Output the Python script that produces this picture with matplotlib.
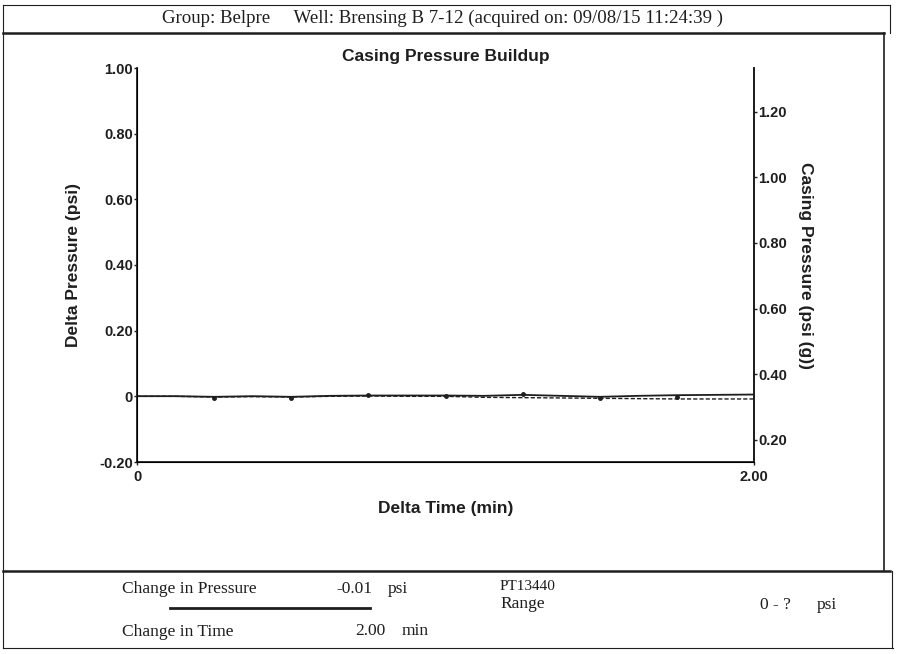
import matplotlib.pyplot as plt
from matplotlib.lines import Line2D

# ---- data ----
delta_time = [0, 0.125, 0.25, 0.375, 0.5, 0.625, 0.75, 0.875, 1.0,
              1.125, 1.25, 1.375, 1.5, 1.625, 1.75, 1.875, 2.0]
delta_pressure = [0, 0, -0.002, -0.001, -0.002, 0.0, 0.001, 0.0, 0.0,
                  -0.003, -0.004, -0.005, -0.006, -0.007, -0.008, -0.008, -0.008]
casing_pressure = [0.333, 0.333, 0.331, 0.333, 0.331, 0.334, 0.335, 0.335, 0.335,
                   0.334, 0.337, 0.334, 0.331, 0.334, 0.336, 0.337, 0.338]
marker_time = [0.25, 0.5, 0.75, 1.0, 1.25, 1.5, 1.75]
marker_dp = [-0.004, -0.004, 0.003, 0.002, 0.006, -0.004, -0.002]

left_ticks = [-0.20, 0, 0.20, 0.40, 0.60, 0.80, 1.00]
left_labels = ['-0.20', '0', '0.20', '0.40', '0.60', '0.80', '1.00']
right_ticks = [0.20, 0.40, 0.60, 0.80, 1.00, 1.20]
right_labels = ['0.20', '0.40', '0.60', '0.80', '1.00', '1.20']

ink = '#1e1e1e'
serif = 'Liberation Serif'
sans = 'Liberation Sans'

fig = plt.figure(figsize=(8.98, 6.54), dpi=100)

# ---- frames (figure pixels -> fraction) ----
W, H = 898, 654
def hline(y, x0, x1, lw=1.2):
    fig.add_artist(Line2D([x0 / W, x1 / W], [1 - y / H, 1 - y / H], color=ink, lw=lw))
def vline(x, y0, y1, lw=1.2):
    fig.add_artist(Line2D([x / W, x / W], [1 - y0 / H, 1 - y1 / H], color=ink, lw=lw))

hline(5, 3, 890, 0.8)
hline(33, 3, 884, 1.8)
hline(571, 3, 890, 1.8)
hline(648, 3, 893, 0.8)
vline(3, 5, 648, 0.8)
vline(884, 33, 571, 1.2)
vline(890, 5, 33, 0.8)
vline(892, 571, 648, 0.8)

fig.text(443 / W, 1 - 18 / H,
         'Group: Belpre     Well: Brensing B 7-12 (acquired on: 09/08/15 11:24:39 )',
         ha='center', va='center', fontsize=13.6, family=serif, color=ink)

# ---- main plot ----
ax = fig.add_axes([137 / W, 1 - 462 / H, (754 - 137) / W, (462 - 68) / H])
ax.plot(delta_time, delta_pressure, color=ink, lw=1.0, ls=(0, (3, 1.5)))
ax.plot(marker_time, marker_dp, ls='none', marker='o', ms=2.5, color=ink)
ax.set_xlim(0, 2.0)
ax.set_ylim(-0.20, 1.00)
ax.set_xticks([0, 2.0])
ax.set_xticklabels(['0', '2.00'])
ax.set_yticks(left_ticks)
ax.set_yticklabels(left_labels)
ax.spines['top'].set_visible(False)
for s in ['left', 'bottom', 'right']:
    ax.spines[s].set_linewidth(1.3)
    ax.spines[s].set_color(ink)
ax.tick_params(axis='both', length=2, width=1, colors=ink, pad=1, labelsize=10.5)
ax.tick_params(axis='x', pad=4)
for lab in ax.get_xticklabels() + ax.get_yticklabels():
    lab.set_fontweight('bold')
    lab.set_family(sans)
ax.set_xlabel('Delta Time (min)', fontsize=12.5, fontweight='bold', family=sans,
              color=ink, labelpad=12)
ax.set_ylabel('Delta Pressure (psi)', fontsize=12.5, fontweight='bold', family=sans,
              color=ink, labelpad=13)
ax.set_title('Casing Pressure Buildup', fontsize=12.5, fontweight='bold',
             family=sans, color=ink, pad=5)

ax2 = ax.twinx()
ax2.plot(delta_time, casing_pressure, color=ink, lw=1.3)
ax2.set_ylim(0.1325, 1.3325)
ax2.set_yticks(right_ticks)
ax2.set_yticklabels(right_labels)
ax2.spines['top'].set_visible(False)
ax2.spines['right'].set_linewidth(1.3)
ax2.spines['right'].set_color(ink)
ax2.tick_params(axis='y', length=2, width=1, colors=ink, pad=1, labelsize=10.5)
for lab in ax2.get_yticklabels():
    lab.set_fontweight('bold')
    lab.set_family(sans)
ax2.set_ylabel('Casing Pressure (psi (g))', rotation=-90, fontsize=12.5,
               fontweight='bold', family=sans, color=ink, labelpad=19)

# ---- footer ----
def ftext(x, y, s, ha='left', size=12.5):
    fig.text(x / W, 1 - y / H, s, ha=ha, va='center', fontsize=size,
             family=serif, color=ink)

ftext(122, 589, 'Change in Pressure')
ftext(372, 589, '-0.01', ha='right')
ftext(388, 589, 'psi')
ftext(500, 586, 'PT13440', size=11)
hline(608, 170, 370, 2.0)
ftext(500, 604, 'Range')
ftext(760, 605, '0 - ?')
ftext(817, 605, 'psi')
ftext(122, 632, 'Change in Time')
ftext(385, 631, '2.00', ha='right')
ftext(402, 631, 'min')

fig.savefig('out.png', dpi=100)
